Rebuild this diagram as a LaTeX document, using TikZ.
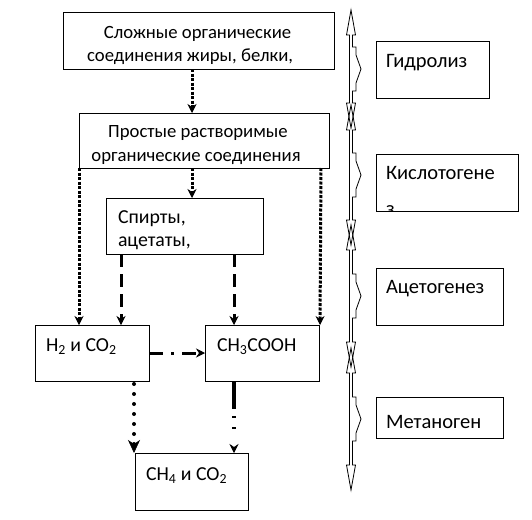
\documentclass[tikz,border=0pt]{standalone}
\usepackage{fontspec}
\setmainfont{Carlito}
\usetikzlibrary{arrows.meta}
\tikzset{
  box/.style={draw, line width=1pt, inner sep=0pt, outer sep=0pt, anchor=north west},
  txt/.style={inner sep=0pt, outer sep=0pt, anchor=base west, font=\fontsize{19.8}{23}\selectfont},
  ctxt/.style={txt, anchor=base, font=\fontsize{18.7}{23}\selectfont},
  rtxt/.style={txt, font=\fontsize{20.5}{24}\selectfont},
  tip/.style={-{Stealth[length=9pt,width=9pt,inset=3pt,line width=0.6pt]}},
  bigtip/.style={-{Stealth[length=13pt,width=12pt,inset=4pt,line width=0.6pt]}},
  sqdot/.style={tip, line width=3pt, dash pattern=on 3pt off 1.5pt},
  longdash/.style={tip, line width=3pt, dash pattern=on 13pt off 7pt},
  dashdotline/.style={tip, line width=3pt, dash pattern=on 14pt off 8pt on 3pt off 8pt},
  rounddots/.style={bigtip, line width=4pt, line cap=round, dash pattern=on 0pt off 10pt},
  dashdotdot/.style={tip, line width=3.5pt, dash pattern=on 28pt off 7pt on 2pt off 9pt on 2pt off 20pt},
  phase/.style={draw, line width=0.8pt, line join=miter},
}
\newcommand{\phasearrow}[2]{%
  \pgfmathsetmacro{\pmid}{(#1+#2)/2}%
  \draw[phase] (351,#1) -- (355.5,#1+25) -- (352.5,#1+25) -- (352.5,\pmid-22) -- (356,\pmid-22) -- (356,\pmid-14) -- (361,\pmid) -- (356,\pmid+14) -- (356,\pmid+22) -- (352.5,\pmid+22) -- (352.5,#2-25) -- (355.5,#2-25) -- (351,#2) -- (346.5,#2-25) -- (349.5,#2-25) -- (349.5,#1+25) -- (346.5,#1+25) -- cycle;%
}
\begin{document}
\begin{tikzpicture}[x=1pt,y=-1pt]
\useasboundingbox (0,0) rectangle (532,519);
% boxes
\node[box, minimum width=271pt, minimum height=56pt] (b1) at (63,13) {};
\node[box, minimum width=250pt, minimum height=55pt] (b2) at (79,113) {};
\node[box, minimum width=157pt, minimum height=56pt] (b3) at (106,198) {};
\node[box, minimum width=114pt, minimum height=56pt] (h2) at (35,325) {};
\node[box, minimum width=114pt, minimum height=56pt] (ch3) at (205,325) {};
\node[box, minimum width=113pt, minimum height=57pt] (ch4) at (135,453) {};
\node[box, minimum width=113pt, minimum height=56pt] (gid) at (376,42) {};
\node[box, minimum width=142pt, minimum height=57pt] (kis) at (376,154) {};
\node[box, minimum width=127pt, minimum height=57pt] (ace) at (376,268) {};
\node[box, minimum width=127pt, minimum height=41pt] (met) at (376,397) {};
% texts
\node[ctxt] (t1a) at (197.5,38) {Сложные органические};
\node[ctxt] (t1b) at (190,62) {соединения жиры, белки,};
\node[ctxt] (t2a) at (198,137) {Простые растворимые};
\node[ctxt] (t2b) at (196,161) {органические соединения};
\node[txt] (t3a) at (118,223) {Спирты,};
\node[txt] (t3b) at (118,246) {ацетаты,};
\node[txt] (th2) at (46,351) {H\textsubscript{2} и CO\textsubscript{2}};
\node[txt] (tch3) at (217,351) {CH\textsubscript{3}COOH};
\node[txt] (tch4) at (146,480) {CH\textsubscript{4} и CO\textsubscript{2}};
\node[rtxt] (tgid) at (386,67) {Гидролиз};
\node[rtxt] (tkis) at (386,179) {Кислотогене};
\begin{scope}
\clip (kis.south west) rectangle (kis.north east);
\node[rtxt] (tkis2) at (386,215) {з};
\end{scope}
\node[rtxt] (tace) at (386,293) {Ацетогенез};
\node[rtxt] (tmet) at (386,428) {Метаноген};
% connectors
\draw[sqdot] ([xshift=129pt]b1.south west) -- ([xshift=113pt]b2.north west);
\draw[sqdot] ([xshift=113pt]b2.south west) -- ([xshift=86pt]b3.north west);
\draw[sqdot] (b2.south west) -- ([xshift=44pt]h2.north west);
\draw[sqdot] ([xshift=-8pt]b2.south east) -- ([xshift=1pt]ch3.north east);
\draw[longdash] ([xshift=15pt]b3.south west) -- ([xshift=86pt]h2.north west);
\draw[longdash] ([xshift=128pt]b3.south west) -- ([xshift=29pt]ch3.north west);
\draw[dashdotline] (h2.east) -- (ch3.west);
\draw[rounddots] ([xshift=99pt,yshift=-3pt]h2.south west) -- ([xshift=-1pt]ch4.north west);
\draw[dashdotdot] ([xshift=29pt]ch3.south west) -- ([xshift=99pt]ch4.north west);
% phase column
\phasearrow{10}{128}
\phasearrow{105}{245}
\phasearrow{225}{367}
\phasearrow{348}{490}
\end{tikzpicture}
\end{document}
